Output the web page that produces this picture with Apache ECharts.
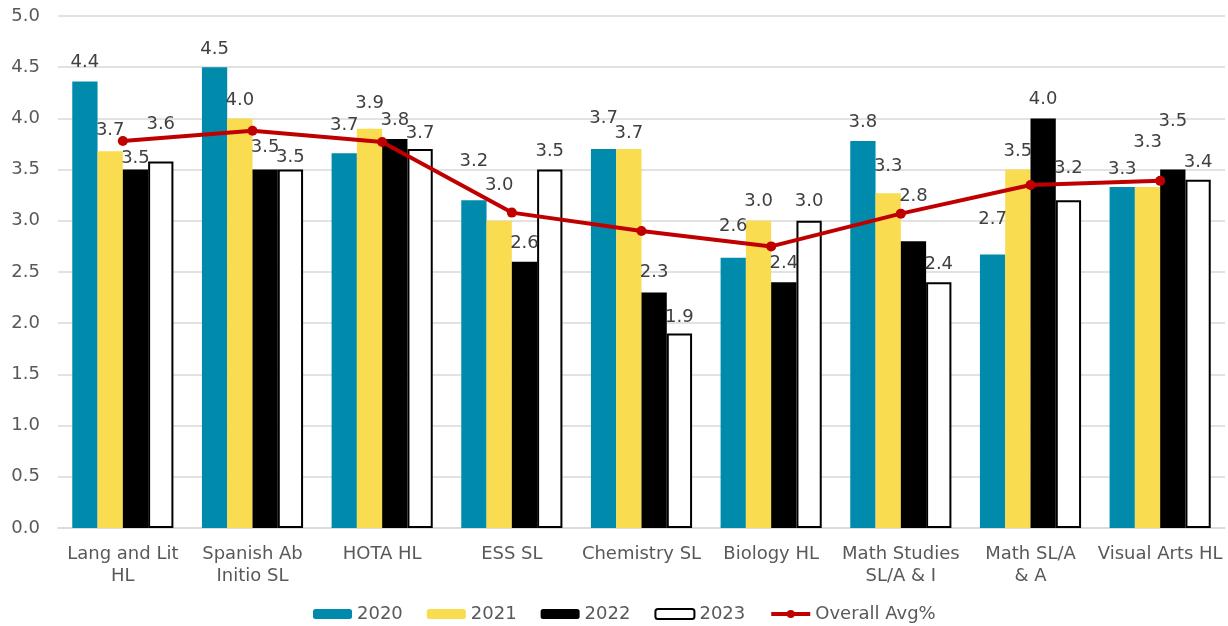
<!DOCTYPE html>
<html><head><meta charset="utf-8">
<script src="https://cdn.jsdelivr.net/npm/echarts@6/dist/echarts.min.js"></script>
<style>html,body{margin:0;padding:0;background:#fff}#c{width:1228px;height:626px}</style>
</head><body><div id="c"></div>
<script>
const categories = ['Lang and Lit\nHL','Spanish Ab\nInitio SL','HOTA HL','ESS SL','Chemistry SL','Biology HL','Math Studies\nSL/A & I','Math SL/A\n& A','Visual Arts HL'];
const y2020 = [4.36, 4.50, 3.66, 3.20, 3.70, 2.64, 3.78, 2.67, 3.33];
const y2021 = [3.68, 4.00, 3.90, 3.00, 3.70, 3.00, 3.27, 3.50, 3.33];
const y2022 = [3.50, 3.50, 3.80, 2.60, 2.30, 2.40, 2.80, 4.00, 3.50];
const y2023 = [3.58, 3.50, 3.70, 3.50, 1.90, 3.00, 2.40, 3.20, 3.40];
const overallAvg = [3.78, 3.88, 3.77, 3.08, 2.90, 2.75, 3.07, 3.35, 3.39];
// label gap (px) above bar tops (style only)
const gap2020 = [19, 18, 28, 39, 31, 31, 19, 35, 18];
const gap2021 = [21, 18, 25, 35, 16, 19, 27, 18, 45];
const gap2022 = [11, 22, 19, 18, 20, 19, 45, 19, 48];
const gap2023 = [37, 12, 16, 18, 16, 19, 18, 32, 18];

const FONT = 'DejaVu Sans';
const TXT = '#595959';
function mk(vals, gaps){
  return vals.map((v,i)=>({value:v, label:{offset:[0, -(gaps[i]-18)]}}));
}
function barSeries(name, vals, gaps, color, border){
  return {
    name, type:'bar', data: mk(vals,gaps), barGap:'0%', barCategoryGap:'22%',
    itemStyle: border ? {color:'#ffffff', borderColor:'#000', borderWidth:2} : {color},
    label:{show:true, position:'top', distance:9, fontFamily:FONT, fontSize:18, color:'#404040',
      formatter: p => p.value.toFixed(1)},
    emphasis:{disabled:true}
  };
}
const chart = echarts.init(document.getElementById('c'));
chart.setOption({
  animation:false,
  textStyle:{fontFamily:FONT},
  grid:{left:58, right:3, top:16, bottom:98, containLabel:false},
  legend:{
    left:313, top:605, padding:0, itemWidth:39, itemHeight:10, itemGap:24,
    textStyle:{fontFamily:FONT, fontSize:18, color:TXT},
    data:[{name:'2020'},{name:'2021'},{name:'2022'},{name:'2023'},
      {name:'Overall Avg%', lineStyle:{width:4, color:'#C00000'}, itemStyle:{color:'#C00000'}}]
  },
  xAxis:{
    type:'category', data:categories,
    axisLine:{show:true, lineStyle:{color:'#d9d9d9', width:1.5}},
    axisTick:{show:false},
    axisLabel:{interval:0, fontFamily:FONT, fontSize:18, color:TXT, lineHeight:22, margin:15}
  },
  yAxis:{
    type:'value', min:0, max:5, interval:0.5,
    axisLine:{show:false}, axisTick:{show:false},
    splitLine:{lineStyle:{color:'#d9d9d9', width:1.5}},
    axisLabel:{fontFamily:FONT, fontSize:18, color:TXT, margin:18, formatter: v => v.toFixed(1)}
  },
  series:[
    barSeries('2020', y2020, gap2020, '#008BAD'),
    barSeries('2021', y2021, gap2021, '#F9DC4F'),
    barSeries('2022', y2022, gap2022, '#000000'),
    barSeries('2023', y2023, gap2023, null, true),
    {name:'Overall Avg%', type:'line', data:overallAvg, symbol:'circle', symbolSize:10,
     lineStyle:{color:'#C00000', width:4}, itemStyle:{color:'#C00000'}, z:5,
     emphasis:{disabled:true}}
  ]
});
</script></body></html>
